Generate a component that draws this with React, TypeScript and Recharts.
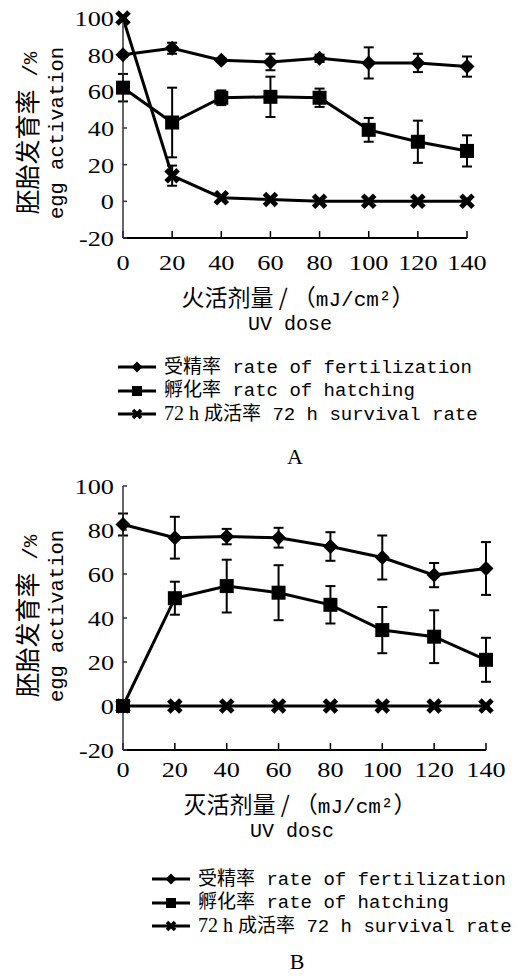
import React from 'react';
import { LineChart, Line, XAxis, YAxis, ErrorBar } from 'recharts';

// shared axes
const doses = [0, 20, 40, 60, 80, 100, 120, 140];
const yTicks = [-20, 0, 20, 40, 60, 80, 100];

// panel A
const fertA = [80, 83.5, 77, 76, 78, 75.5, 75.5, 73.5];
const fertErrA = [1, 3, 1, 4.5, 2, 8.5, 5, 5.5];
const hatchA = [62, 43, 56.5, 57, 56.5, 39, 32.5, 27.5];
const hatchErrA = [7.5, 19, 4, 11, 5, 6.5, 11.5, 8.5];
const survA = [100, 14, 2, 1, 0, 0, 0, 0];
const survErrA = [0, 5.5, 0, 0, 0, 0, 0, 0];

// panel B
const fertB = [82.5, 76.5, 77, 76.5, 72.5, 67.5, 59.5, 62.5];
const fertErrB = [5, 9.5, 3.5, 4.5, 6.5, 10, 5.5, 12];
const hatchB = [0, 49, 54.5, 51.5, 46, 34.5, 31.5, 21];
const hatchErrB = [0, 7.5, 12, 12.5, 8.5, 10.5, 12, 10];
const survB = [0, 0, 0, 0, 0, 0, 0, 0];
const survErrB = [0, 0, 0, 0, 0, 0, 0, 0];

const SERIF = "'Liberation Serif', 'Times New Roman', serif";
const MONO = "'Liberation Mono', 'Noto Sans CJK SC', monospace";
const CJK = "'Noto Sans CJK SC', sans-serif";

const buildRows = (fert: number[], fertErr: number[], hatch: number[], hatchErr: number[], surv: number[], survErr: number[]) =>
  doses.map((dose, i) => ({
    dose,
    fert: fert[i],
    fertErr: fertErr[i],
    hatch: hatch[i],
    hatchErr: hatchErr[i],
    surv: surv[i],
    survErr: survErr[i],
  }));

const dataA = buildRows(fertA, fertErrA, hatchA, hatchErrA, survA, survErrA);
const dataB = buildRows(fertB, fertErrB, hatchB, hatchErrB, survB, survErrB);

// marker shapes
const Diamond = ({ cx, cy, r = 7.5 }: any) => (
  <polygon points={`${cx},${cy - r} ${cx + r},${cy} ${cx},${cy + r} ${cx - r},${cy}`} fill="#000" />
);

const Square = ({ cx, cy, r = 7 }: any) => (
  <rect x={cx - r} y={cy - r} width={r * 2} height={r * 2} fill="#000" />
);

const Cross = ({ cx, cy, r = 6, w = 5 }: any) => (
  <g stroke="#000" strokeWidth={w}>
    <line x1={cx - r} y1={cy - r} x2={cx + r} y2={cy + r} />
    <line x1={cx - r} y1={cy + r} x2={cx + r} y2={cy - r} />
  </g>
);

const dotFn = (Shape: any, name: string) => (p: any) => {
  if (p.cx == null || p.cy == null) return <g key={`${name}-${p.index}`} />;
  return <Shape key={`${name}-${p.index}`} cx={p.cx} cy={p.cy} />;
};

// the numbers in the source are wide Times digits, so stretch them a bit
const NumTick = (props: any) => {
  const { x, y, payload, anchor, base } = props;
  return (
    <text
      transform={`translate(${x},${y + base}) scale(1.25,1)`}
      textAnchor={anchor}
      fontFamily={SERIF}
      fontSize={21}
      fill="#000"
    >
      {payload.value}
    </text>
  );
};

interface PanelProps {
  data: any[];
  height: number;
  rightMargin: number;
  xBase: number;
}

const Panel = ({ data, height, rightMargin, xBase }: PanelProps) => (
  <LineChart width={518} height={height} data={data} margin={{ top: 18, right: rightMargin, left: 0, bottom: 0 }}>
    <XAxis
      type="number"
      dataKey="dose"
      domain={[0, 140]}
      ticks={doses}
      interval={0}
      height={42}
      tickSize={-7}
      tickMargin={0}
      axisLine={{ stroke: '#000', strokeWidth: 2 }}
      tickLine={{ stroke: '#000', strokeWidth: 1.5 }}
      tick={<NumTick anchor="middle" base={xBase} />}
    />
    <YAxis
      type="number"
      domain={[-20, 100]}
      ticks={yTicks}
      interval={0}
      width={123}
      tickSize={-4}
      tickMargin={13}
      axisLine={{ stroke: '#333', strokeWidth: 1.5 }}
      tickLine={{ stroke: '#333', strokeWidth: 1.5 }}
      tick={<NumTick anchor="end" base={8} />}
    />
    <Line type="linear" dataKey="surv" stroke="#000" strokeWidth={3} dot={dotFn(Cross, 's')} isAnimationActive={false}>
      <ErrorBar dataKey="survErr" direction="y" width={5} strokeWidth={2} stroke="#000" />
    </Line>
    <Line type="linear" dataKey="hatch" stroke="#000" strokeWidth={3} dot={dotFn(Square, 'h')} isAnimationActive={false}>
      <ErrorBar dataKey="hatchErr" direction="y" width={5} strokeWidth={2} stroke="#000" />
    </Line>
    <Line type="linear" dataKey="fert" stroke="#000" strokeWidth={3} dot={dotFn(Diamond, 'f')} isAnimationActive={false}>
      <ErrorBar dataKey="fertErr" direction="y" width={5} strokeWidth={2} stroke="#000" />
    </Line>
  </LineChart>
);

const abs = (left: number, top: number): React.CSSProperties => ({
  position: 'absolute',
  left,
  top,
  whiteSpace: 'nowrap',
  color: '#000',
  lineHeight: 1,
});

const YLabel = ({ cy }: { cy: number }) => (
  <>
    <div style={{ ...abs(28, cy), transform: 'translate(-50%, -50%) rotate(-90deg)' }}>
      <span style={{ fontFamily: CJK, fontSize: 25 }}>胚胎发育率</span>
      <span style={{ fontFamily: MONO, fontSize: 21 }}> /%</span>
    </div>
    <div style={{ ...abs(58, cy), transform: 'translate(-50%, -50%) rotate(-90deg)', fontFamily: MONO, fontSize: 20.5 }}>
      egg activation
    </div>
  </>
);

const XTitle = ({ cx, top, zh, en }: { cx: number; top: number; zh: string; en: string }) => (
  <>
    <div style={{ ...abs(cx, top), transform: 'translate(-50%, -50%)', fontFamily: CJK, fontSize: 23 }}>
      {zh} / （<span style={{ fontFamily: MONO, fontSize: 21 }}>mJ/cm²</span>）
    </div>
    <div style={{ ...abs(cx - 8, top + 27), transform: 'translate(-50%, -50%)', fontFamily: MONO, fontSize: 20 }}>{en}</div>
  </>
);

const LegendIcon = ({ kind }: { kind: string }) => (
  <svg width={38} height={16} style={{ display: 'block' }}>
    <line x1={0} y1={8} x2={38} y2={8} stroke="#000" strokeWidth={3} />
    {kind === 'f' && <Diamond cx={19} cy={8} r={5.5} />}
    {kind === 'h' && <Square cx={19} cy={8} r={5} />}
    {kind === 's' && <Cross cx={19} cy={8} r={4} w={3.5} />}
  </svg>
);

const Legend = ({ left, top, hatchText }: { left: number; top: number; hatchText: string }) => {
  const rows = [
    { kind: 'f', content: <span style={{ fontFamily: MONO }}>受精率 rate of fertilization</span> },
    { kind: 'h', content: <span style={{ fontFamily: MONO }}>孵化率 {hatchText}</span> },
    {
      kind: 's',
      content: (
        <span style={{ fontFamily: MONO }}>
          <span style={{ fontFamily: SERIF, fontSize: 20 }}>72 h </span>成活率 72 h survival rate
        </span>
      ),
    },
  ];
  return (
    <>
      {rows.map((r, i) => (
        <div key={r.kind} style={{ ...abs(left, top + i * 23.5 - 10), display: 'flex', alignItems: 'center', height: 20, fontSize: 19 }}>
          <LegendIcon kind={r.kind} />
          <div style={{ marginLeft: 8 }}>{r.content}</div>
        </div>
      ))}
    </>
  );
};

export default function App() {
  return (
    <div style={{ position: 'absolute', left: 0, top: 0, width: 518, height: 976, background: '#fff', overflow: 'hidden' }}>
      <div style={{ position: 'absolute', left: 0, top: 0 }}>
        <Panel data={dataA} height={280} rightMargin={51} xBase={39} />
      </div>
      <YLabel cy={133} />
      <XTitle cx={298} top={298} zh="火活剂量" en="UV dose" />
      <Legend left={118} top={367} hatchText="ratc of hatching" />
      <div style={{ ...abs(295, 457), transform: 'translate(-50%, -50%)', fontFamily: SERIF, fontSize: 22 }}>A</div>

      <div style={{ position: 'absolute', left: 0, top: 468 }}>
        <Panel data={dataB} height={324} rightMargin={32} xBase={34} />
      </div>
      <YLabel cy={616} />
      <XTitle cx={300} top={805} zh="灭活剂量" en="UV dosc" />
      <Legend left={152} top={879} hatchText="rate of hatching" />
      <div style={{ ...abs(297, 962), transform: 'translate(-50%, -50%)', fontFamily: SERIF, fontSize: 22 }}>B</div>
    </div>
  );
}
